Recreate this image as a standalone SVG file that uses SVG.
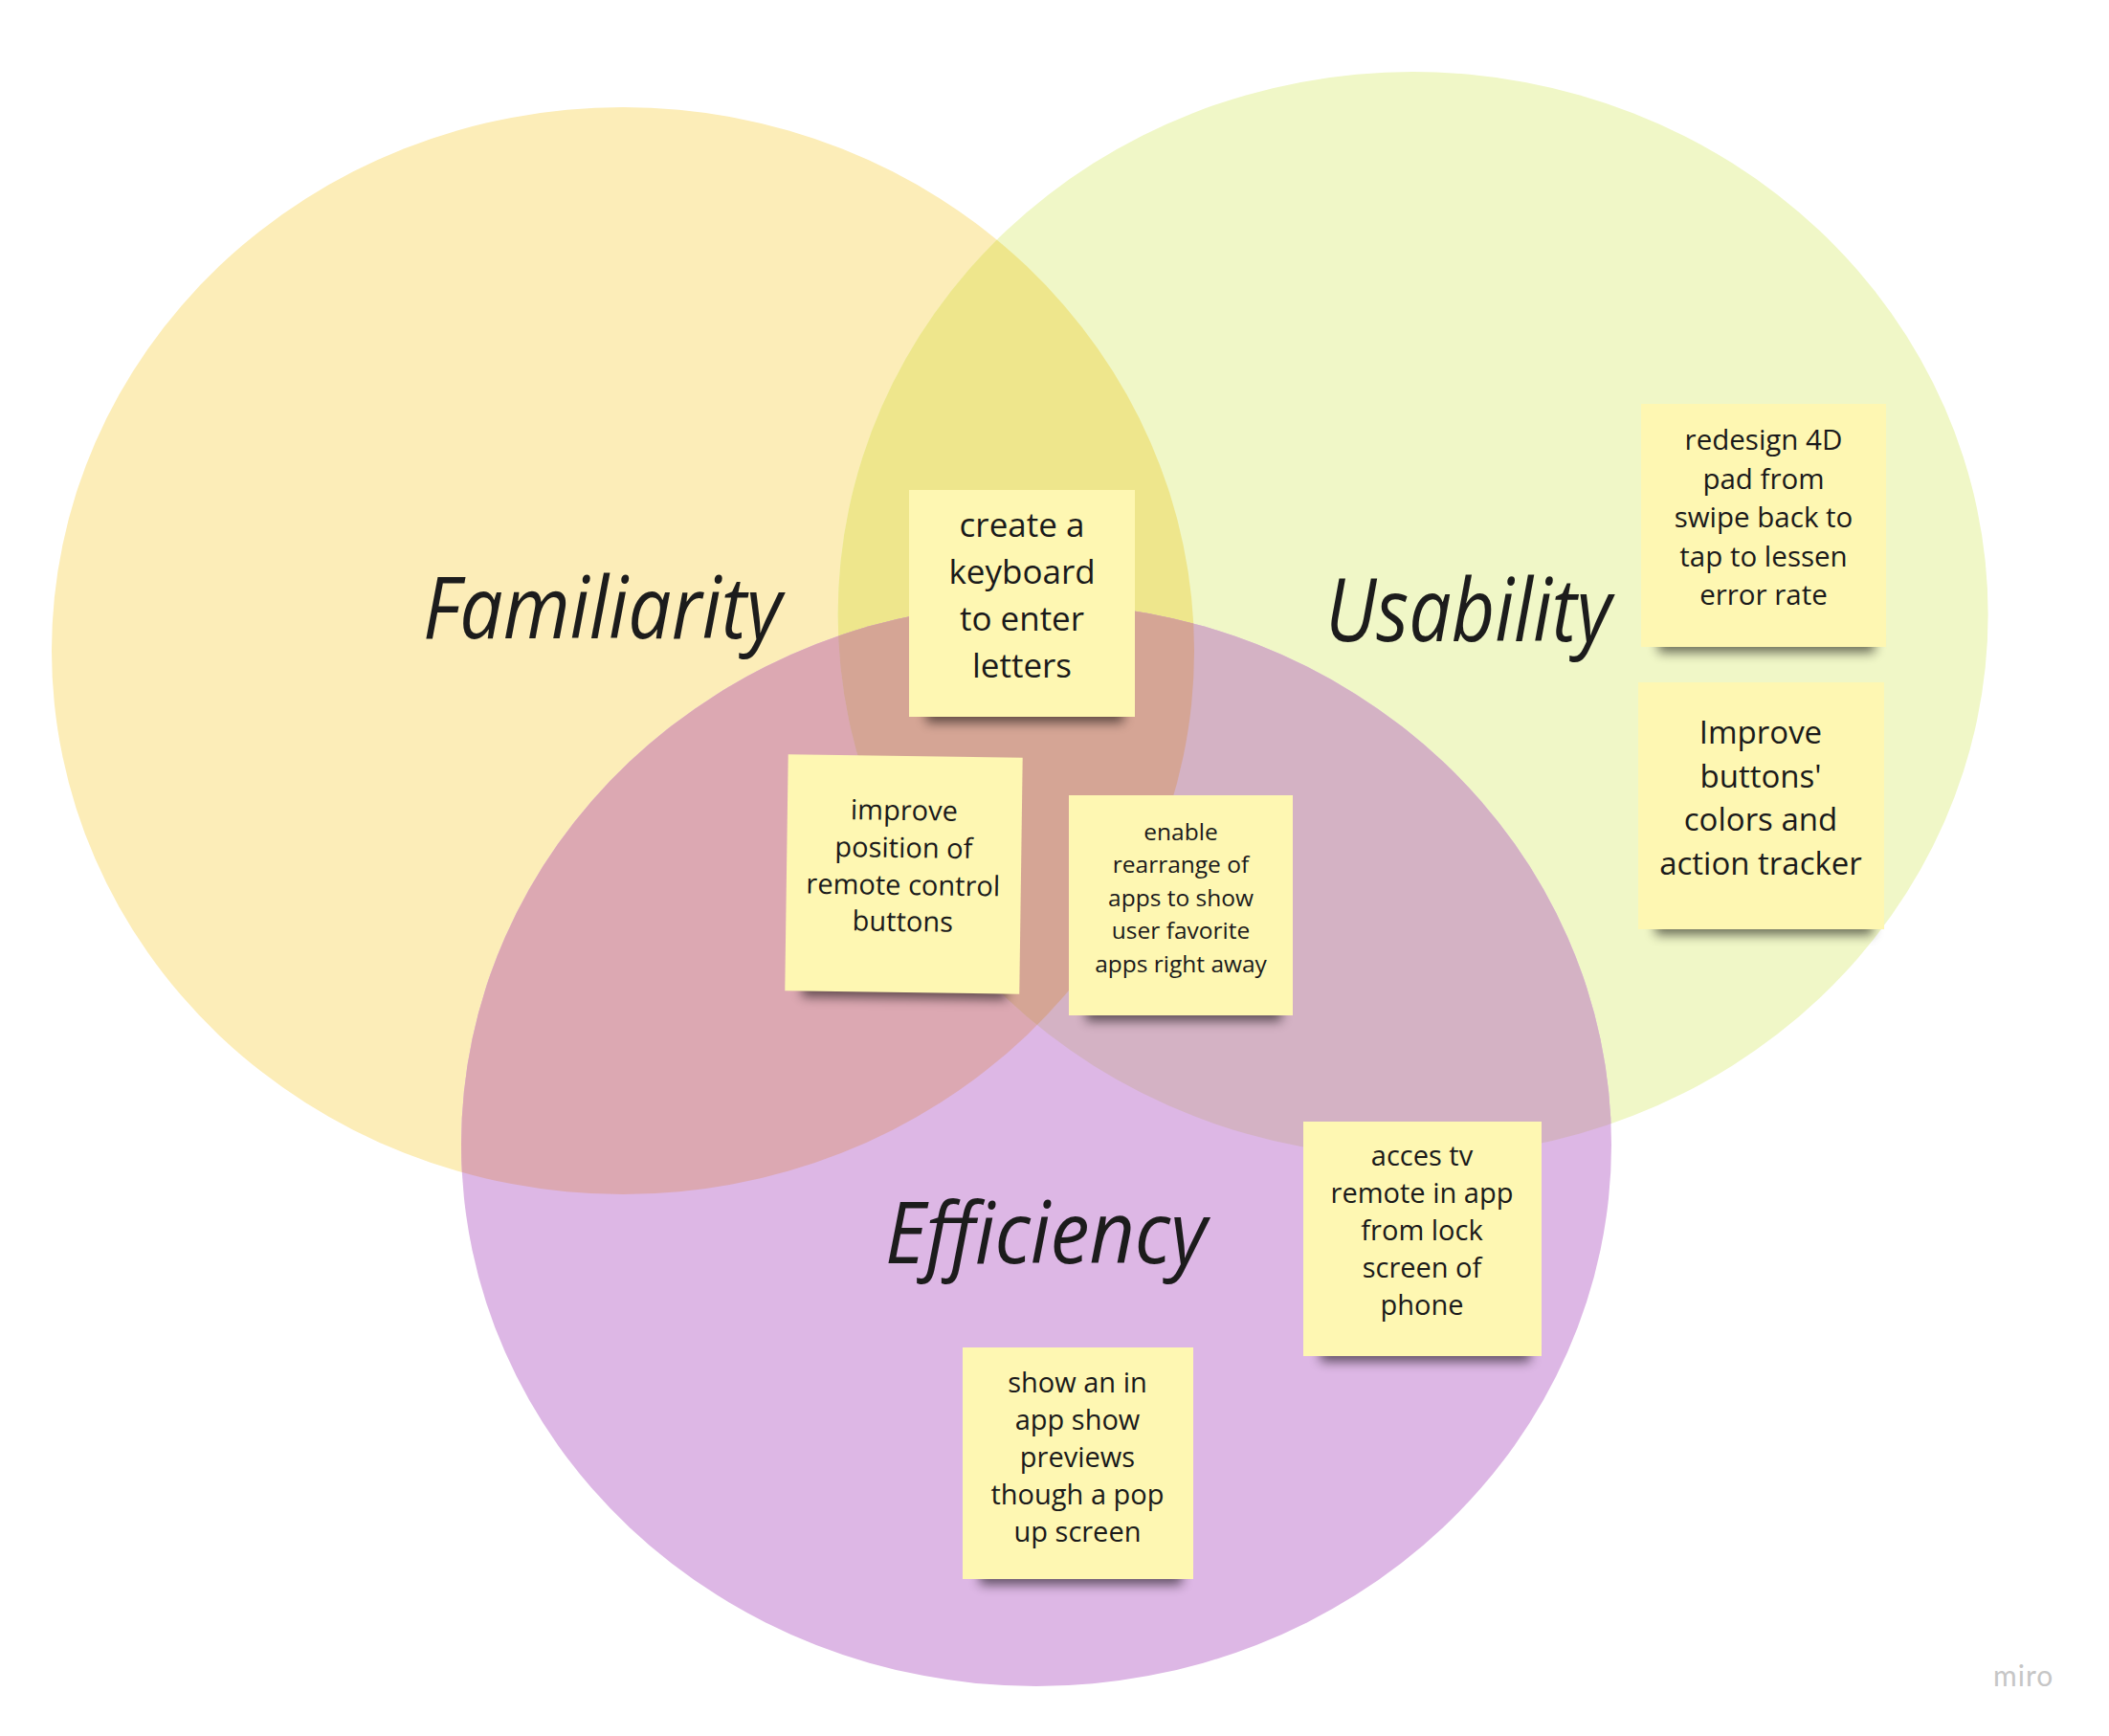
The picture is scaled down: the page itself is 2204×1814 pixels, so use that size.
<svg xmlns="http://www.w3.org/2000/svg" width="2204" height="1814" viewBox="0 0 2204 1814">
<style>
.note{fill:#FEF7B2}
.shadow{fill:#000;opacity:.55}
.nt{font-family:"Open Sans","Noto Sans",sans-serif;fill:#1a1a1a;text-anchor:middle}
.lbl{font-family:"Open Sans","DejaVu Sans",sans-serif;font-style:italic;font-weight:500;fill:#1c1c1c}
</style>
<defs>
<clipPath id="cY"><ellipse cx="651" cy="680" rx="597" ry="568"/></clipPath>
<clipPath id="cG"><ellipse cx="1476.6" cy="642" rx="601" ry="567"/></clipPath>
<filter id="blur" x="-20%" y="-100%" width="140%" height="300%"><feGaussianBlur stdDeviation="6"/></filter>
</defs>
<rect width="2204" height="1814" fill="#ffffff"/>
<g id="venn">
<ellipse id="circle-familiarity" cx="651" cy="680" rx="597" ry="568" fill="#FCEDB8"/>
<ellipse id="circle-usability" cx="1476.6" cy="642" rx="601" ry="567" fill="#F0F7C7"/>
<ellipse id="circle-efficiency" cx="1083" cy="1196" rx="601" ry="566" fill="#DDB7E5"/>
<g clip-path="url(#cY)">
<ellipse cx="1476.6" cy="642" rx="601" ry="567" fill="#EEE68C"/>
<ellipse cx="1083" cy="1196" rx="601" ry="566" fill="#DCA8B2"/>
</g>
<g clip-path="url(#cG)">
<ellipse cx="1083" cy="1196" rx="601" ry="566" fill="#D4B2C4"/>
</g>
<g clip-path="url(#cY)"><g clip-path="url(#cG)">
<ellipse cx="1083" cy="1196" rx="601" ry="566" fill="#D5A595"/>
</g></g>
</g>
<g id="labels">
<text class="lbl" x="442" y="667" font-size="90" textLength="375" lengthAdjust="spacingAndGlyphs">Familiarity</text>
<text class="lbl" x="1385" y="670" font-size="92" textLength="299" lengthAdjust="spacingAndGlyphs">Usability</text>
<text class="lbl" x="925" y="1320" font-size="90" textLength="336" lengthAdjust="spacingAndGlyphs">Efficiency</text>
</g>
<g id="note-keyboard">
<rect class="shadow" x="968" y="733" width="206" height="22" filter="url(#blur)"/>
<rect class="note" x="950" y="512" width="236" height="237"/>
<text class="nt" font-size="35"><tspan x="1068" y="561">create a</tspan><tspan x="1068" y="610">keyboard</tspan><tspan x="1068" y="659">to enter</tspan><tspan x="1068" y="708">letters</tspan></text>
</g>
<g id="note-position" transform="rotate(0.8 944 913)">
<rect class="shadow" x="840" y="1021" width="214" height="22" filter="url(#blur)"/>
<rect class="note" x="822" y="790" width="245" height="247"/>
<text class="nt" font-size="29"><tspan x="944" y="857">improve</tspan><tspan x="944" y="896">position of</tspan><tspan x="944" y="935">remote control</tspan><tspan x="944" y="973">buttons</tspan></text>
</g>
<g id="note-rearrange">
<rect class="shadow" x="1135" y="1045" width="204" height="22" filter="url(#blur)"/>
<rect class="note" x="1117" y="831" width="234" height="230"/>
<text class="nt" font-size="24.5"><tspan x="1234" y="878">enable</tspan><tspan x="1234" y="912">rearrange of</tspan><tspan x="1234" y="947">apps to show</tspan><tspan x="1234" y="981">user favorite</tspan><tspan x="1234" y="1016">apps right away</tspan></text>
</g>
<g id="note-redesign">
<rect class="shadow" x="1733" y="660" width="226" height="22" filter="url(#blur)"/>
<rect class="note" x="1715" y="422" width="256" height="254"/>
<text class="nt" font-size="29.5"><tspan x="1843" y="470">redesign 4D</tspan><tspan x="1843" y="510.5">pad from</tspan><tspan x="1843" y="551">swipe back to</tspan><tspan x="1843" y="591.5">tap to lessen</tspan><tspan x="1843" y="632">error rate</tspan></text>
</g>
<g id="note-colors">
<rect class="shadow" x="1730" y="955" width="227" height="22" filter="url(#blur)"/>
<rect class="note" x="1712" y="713" width="257" height="258"/>
<text class="nt" font-size="33"><tspan x="1840" y="777">Improve</tspan><tspan x="1840" y="822.5">buttons'</tspan><tspan x="1840" y="868">colors and</tspan><tspan x="1840" y="914">action tracker</tspan></text>
</g>
<g id="note-lockscreen">
<rect class="shadow" x="1380" y="1401" width="219" height="22" filter="url(#blur)"/>
<rect class="note" x="1362" y="1172" width="249" height="245"/>
<text class="nt" font-size="29"><tspan x="1486" y="1218">acces tv</tspan><tspan x="1486" y="1257">remote in app</tspan><tspan x="1486" y="1296">from lock</tspan><tspan x="1486" y="1335">screen of</tspan><tspan x="1486" y="1374">phone</tspan></text>
</g>
<g id="note-previews">
<rect class="shadow" x="1024" y="1634" width="211" height="22" filter="url(#blur)"/>
<rect class="note" x="1006" y="1408" width="241" height="242"/>
<text class="nt" font-size="29"><tspan x="1126" y="1455">show an in</tspan><tspan x="1126" y="1494">app show</tspan><tspan x="1126" y="1533">previews</tspan><tspan x="1126" y="1572">though a pop</tspan><tspan x="1126" y="1611">up screen</tspan></text>
</g>
<text id="watermark" x="2083" y="1762" font-family="Lato,'Open Sans',sans-serif" font-size="30" fill="#C6C6C6" letter-spacing="1">miro</text>
</svg>
